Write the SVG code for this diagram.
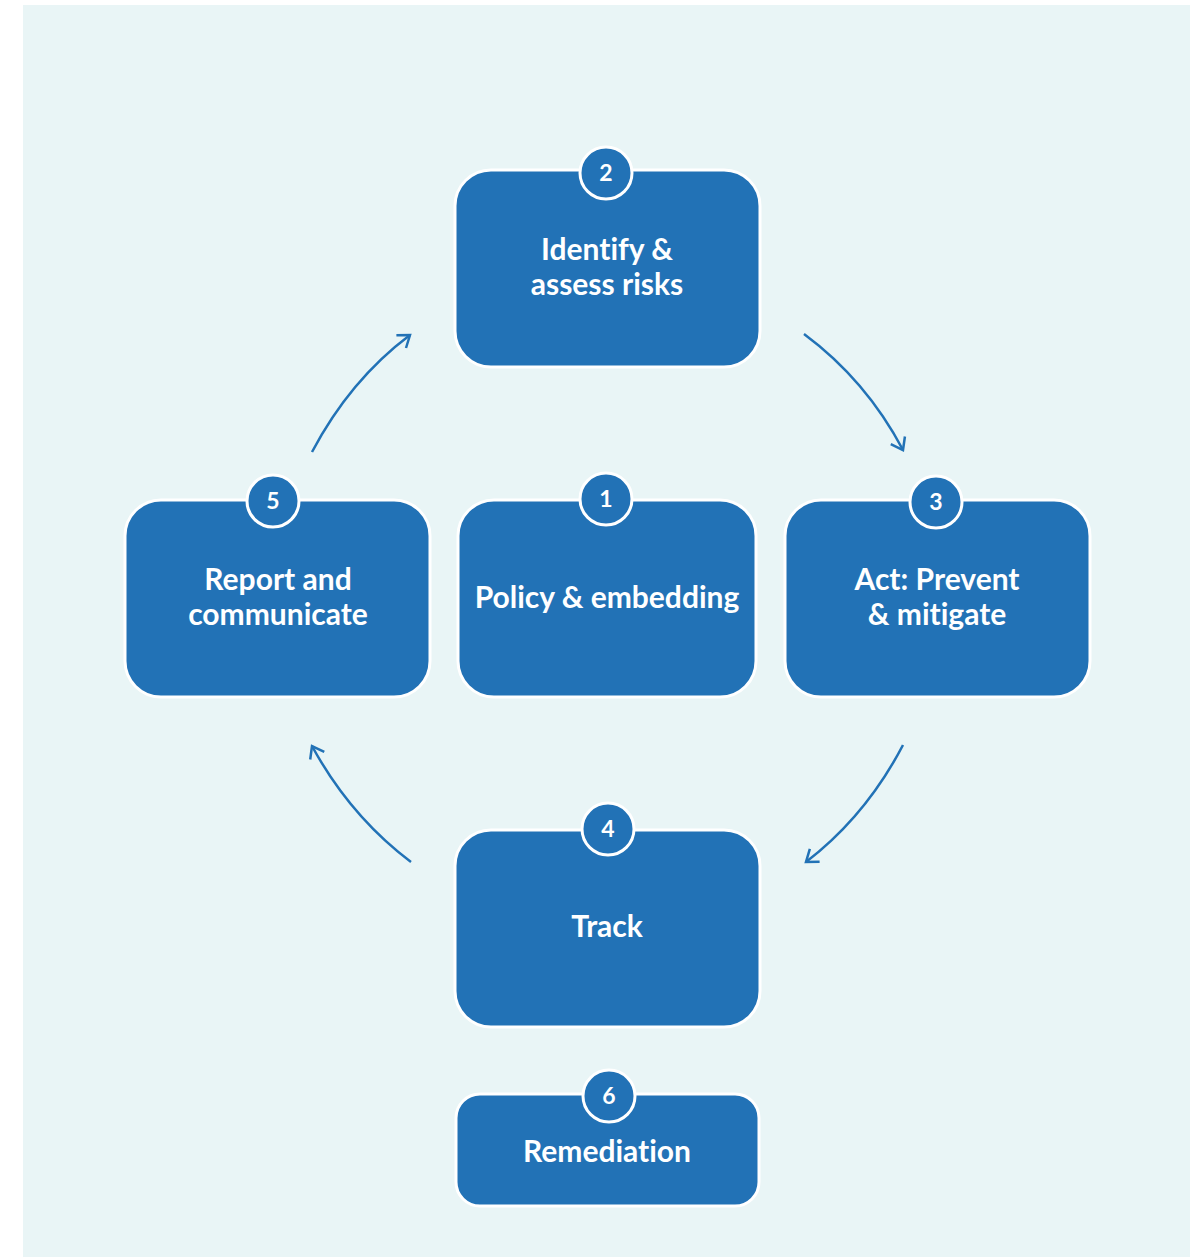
<svg xmlns="http://www.w3.org/2000/svg" width="1203" height="1257" viewBox="0 0 1203 1257">
<style>
.box{fill:#2272B6;stroke:#ffffff;stroke-width:3}
.badge{fill:#2272B6;stroke:#ffffff;stroke-width:3}
.lbl{font-family:Lato,"Open Sans","Liberation Sans",sans-serif;font-weight:bold;font-size:30px;fill:#ffffff;text-anchor:middle;font-variant-ligatures:none}
.num{font-family:Lato,"Open Sans","Liberation Sans",sans-serif;font-weight:bold;font-size:23px;fill:#ffffff;text-anchor:middle}
.arr{fill:none;stroke:#2272B6;stroke-width:2.5;marker-end:url(#ah)}
</style>
<defs>
<marker id="ah" markerWidth="20" markerHeight="20" refX="0" refY="0" viewBox="-12 -10 14 20" orient="auto" markerUnits="userSpaceOnUse">
<path d="M-11,-8 L0,0 L-11,8" fill="none" stroke="#2272B6" stroke-width="2.5"/>
</marker>
</defs>
<rect x="0" y="0" width="1203" height="1257" fill="#ffffff"/>
<rect x="23" y="5" width="1167" height="1252" fill="#E9F5F6"/>
<g id="connectors">
<path class="arr" d="M804,334 Q866,380 903,450"/>
<path class="arr" d="M903,745 Q866,816 806,862"/>
<path class="arr" d="M411,862 Q350,816 312,746"/>
<path class="arr" d="M312,452 Q350,380 410,335"/>
</g>
<g id="node2">
<rect class="box" x="455" y="170" width="305" height="197" rx="36"/>
<circle class="badge" cx="606" cy="173" r="26"/>
<text class="num" x="606" y="181">2</text>
<text class="lbl" x="607" y="260">Identify &amp;</text>
<text class="lbl" x="607" y="295">assess risks</text>
</g>
<g id="node5">
<rect class="box" x="125" y="500" width="305" height="197" rx="36"/>
<circle class="badge" cx="273" cy="501" r="26"/>
<text class="num" x="273" y="509">5</text>
<text class="lbl" x="278" y="590">Report and</text>
<text class="lbl" x="278" y="625">communicate</text>
</g>
<g id="node1">
<rect class="box" x="458" y="500" width="298" height="197" rx="36"/>
<circle class="badge" cx="606" cy="499" r="26"/>
<text class="num" x="606" y="507">1</text>
<text class="lbl" x="607" y="608">Policy &amp; embedding</text>
</g>
<g id="node3">
<rect class="box" x="785" y="500" width="305" height="197" rx="36"/>
<circle class="badge" cx="936" cy="502" r="26"/>
<text class="num" x="936" y="510">3</text>
<text class="lbl" x="937" y="590">Act: Prevent</text>
<text class="lbl" x="937" y="625">&amp; mitigate</text>
</g>
<g id="node4">
<rect class="box" x="455" y="830" width="305" height="197" rx="36"/>
<circle class="badge" cx="608" cy="829" r="26"/>
<text class="num" x="608" y="837">4</text>
<text class="lbl" x="607" y="937">Track</text>
</g>
<g id="node6">
<rect class="box" x="456" y="1094" width="303" height="112" rx="24"/>
<circle class="badge" cx="609" cy="1096" r="26"/>
<text class="num" x="609" y="1104">6</text>
<text class="lbl" x="607" y="1162">Remediation</text>
</g>
</svg>
